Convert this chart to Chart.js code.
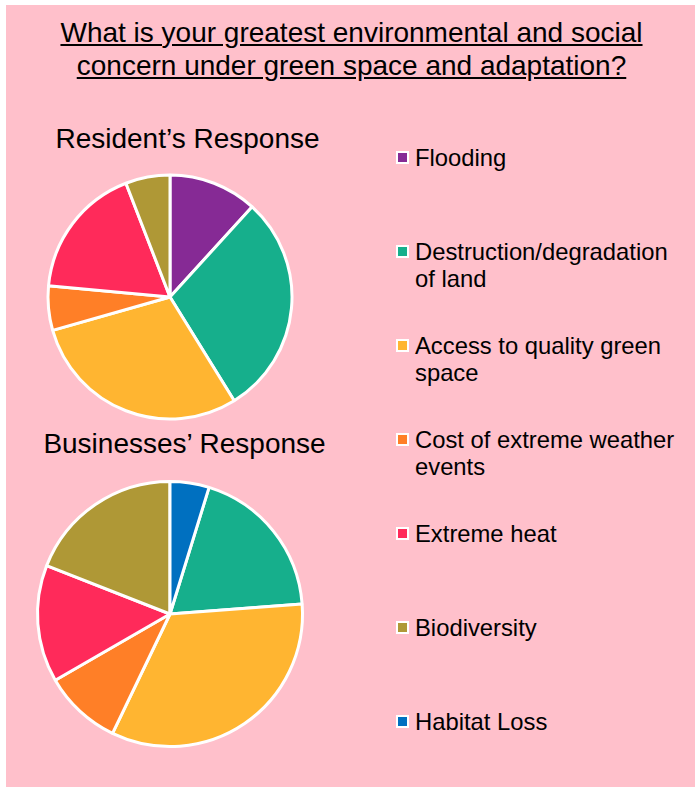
<!DOCTYPE html>
<html>
<head>
<meta charset="utf-8">
<script src="https://cdn.jsdelivr.net/npm/chart.js@4"></script>
<style>
  html, body { margin: 0; padding: 0; background: #fff; }
  body { width: 695px; height: 787px; position: relative; overflow: hidden;
         font-family: "Liberation Sans", Arial, sans-serif; color: #000; }
  #panel { position: absolute; left: 6px; top: 5px; right: 0; bottom: 0; background: #FFC0CB; }
  .abs { position: absolute; white-space: nowrap; }
  #title { left: 0; width: 703px; top: 15.5px; text-align: center;
           font-size: 28px; line-height: 33px; text-decoration: underline; }
  .sub { font-size: 28px; line-height: 33px; text-align: center; width: 340px; }
  .legend-item { left: 394px; font-size: 23.8px; line-height: 27.4px; }
  .legend-item .box { position: absolute; left: 2px; top: 7px; width: 9px; height: 9px;
                      border: 2.5px solid #fff; }
  .legend-item .txt { position: absolute; left: 21px; top: 0; }
  canvas { position: absolute; }
</style>
</head>
<body>
<div id="panel"></div>
<div id="title" class="abs">What is your greatest environmental and social<br>concern under green space and adaptation?</div>
<div class="abs sub" style="left:17.5px; top:122px;">Resident’s Response</div>
<div class="abs sub" style="left:14.5px; top:427px;">Businesses’ Response</div>
<div id="legend"></div>
<div style="position:absolute; left:45px; top:172px; width:250px; height:250px;"><canvas id="residents"></canvas></div>
<div style="position:absolute; left:30px; top:474px; width:280px; height:280px;"><canvas id="businesses"></canvas></div>

<script>
// concern categories and survey counts
const categories = [
  "Flooding",
  "Destruction/degradation\nof land",
  "Access to quality green\nspace",
  "Cost of extreme weather\nevents",
  "Extreme heat",
  "Biodiversity",
  "Habitat Loss"
];
const residentCounts = [2, 5, 5, 1, 3, 1, 0];
const businessCounts = [0, 4, 7, 2, 3, 4, 1];
const colours = ["#862A95", "#16AF8C", "#FFB531", "#FF7F27", "#FF2A5A", "#AF9836", "#0070C0"];

// legend down the right side
const legend = document.getElementById("legend");
const firstTop = 144, step = 94;
categories.forEach((name, i) => {
  const item = document.createElement("div");
  item.className = "abs legend-item";
  item.style.top = (firstTop + i * step) + "px";
  const box = document.createElement("div");
  box.className = "box";
  box.style.background = colours[i];
  const txt = document.createElement("div");
  txt.className = "txt";
  txt.innerHTML = name.replace("\n", "<br>");
  item.appendChild(box);
  item.appendChild(txt);
  legend.appendChild(item);
});

function makePie(id, counts, radius, rotation) {
  return new Chart(document.getElementById(id), {
    type: "pie",
    data: {
      labels: categories,
      datasets: [{
        data: counts,
        backgroundColor: colours,
        borderColor: "#ffffff",
        borderWidth: 3
      }]
    },
    options: {
      responsive: true,
      maintainAspectRatio: false,
      animation: false,
      radius: radius,
      rotation: rotation,
      layout: { padding: 0 },
      plugins: {
        legend: { display: false },
        tooltip: { enabled: false }
      }
    }
  });
}

const total = arr => arr.reduce((a, b) => a + b, 0);

makePie("residents", residentCounts, 122, 0);
// businesses' pie is turned so habitat loss sits just right of twelve o'clock
makePie("businesses", businessCounts, 132.5, 360 * businessCounts[6] / total(businessCounts));
</script>
</body>
</html>
